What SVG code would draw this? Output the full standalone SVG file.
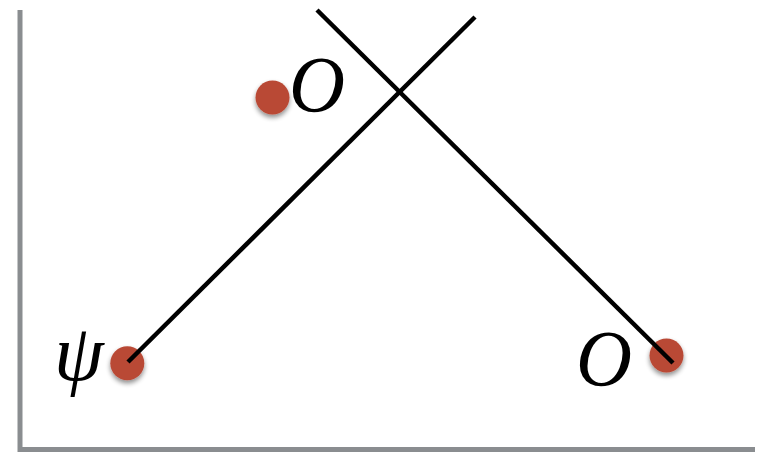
<svg xmlns="http://www.w3.org/2000/svg" width="759" height="453" viewBox="0 0 759 453">
<style>
.axis{stroke:#8a8d90;stroke-width:5;fill:none}
.ln{stroke:#000;stroke-width:4.5;fill:none}
.dot{fill:#b94a36;filter:url(#sh)}
.lbl{font-family:"Liberation Serif","DejaVu Serif",serif;font-style:italic;fill:#000}
</style>
<defs>
<filter id="sh" x="-50%" y="-50%" width="200%" height="200%">
<feGaussianBlur in="SourceAlpha" stdDeviation="2.5"/>
<feOffset dx="0" dy="3" result="b"/>
<feComponentTransfer><feFuncA type="linear" slope="0.45"/></feComponentTransfer>
<feMerge><feMergeNode/><feMergeNode in="SourceGraphic"/></feMerge>
</filter>
</defs>
<g id="axes">
<polyline class="axis" points="20,10 20,449.5 755,449.5"/>
</g>
<g id="node-top">
<circle class="dot" cx="272.5" cy="97.5" r="17"/>
<text class="lbl" x="289" y="112" font-size="80" textLength="56" lengthAdjust="spacingAndGlyphs">O</text>
</g>
<g id="node-psi">
<circle class="dot" cx="127.3" cy="363.3" r="17"/>
<text class="lbl" x="54" y="380" font-size="80">ψ</text>
</g>
<g id="node-right">
<circle class="dot" cx="666.5" cy="355.5" r="17"/>
<text class="lbl" x="576" y="386" font-size="80" textLength="56" lengthAdjust="spacingAndGlyphs">O</text>
</g>
<g id="connectors">
<line class="ln" x1="317" y1="10" x2="673" y2="363"/>
<line class="ln" x1="475" y1="17" x2="128" y2="362"/>
</g>
</svg>
